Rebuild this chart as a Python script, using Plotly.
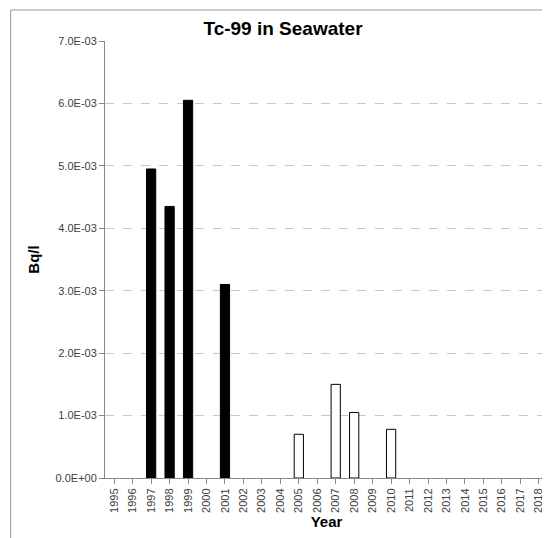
import plotly.graph_objects as go

years = [str(y) for y in range(1995, 2019)]
black_years = ["1997", "1998", "1999", "2001"]
black_vals = [4.95e-3, 4.35e-3, 6.05e-3, 3.1e-3]
white_years = ["2005", "2007", "2008", "2010"]
white_vals = [0.70e-3, 1.50e-3, 1.05e-3, 0.78e-3]
y_ticks = [i * 1e-3 for i in range(8)]
y_labels = ["0.0E+00", "1.0E-03", "2.0E-03", "3.0E-03", "4.0E-03", "5.0E-03", "6.0E-03", "7.0E-03"]

fig = go.Figure()
fig.add_trace(go.Bar(x=black_years, y=black_vals, marker=dict(color="black", line=dict(color="black", width=1)), width=0.5))
fig.add_trace(go.Bar(x=white_years, y=white_vals, marker=dict(color="white", line=dict(color="black", width=1)), width=0.5))

fig.update_layout(
    width=550, height=538,
    margin=dict(l=97, r=10, t=33, b=68),
    paper_bgcolor="white", plot_bgcolor="white",
    showlegend=False, barmode="overlay",
    font=dict(family="Liberation Sans", size=11, color="#404040"),
    title=dict(text="<b>Tc-99 in Seawater</b>", x=0.5, y=0.975, xanchor="center",
               font=dict(size=19, color="black")),
    xaxis=dict(type="category", categoryorder="array", categoryarray=years, range=[-0.5, 23.5],
               tickangle=-90, showline=True, linecolor="#888", ticks="outside", tickcolor="#888",
               title=dict(text="<b>Year</b>", font=dict(size=15, color="black"), standoff=4)),
    yaxis=dict(range=[0, 7e-3], tickvals=y_ticks, ticktext=y_labels, showgrid=True,
               gridcolor="#c8c8c8", griddash="dash", showline=True, linecolor="#888",
               ticks="outside", tickcolor="#888",
               title=dict(text="<b>Bq/l</b>", font=dict(size=15, color="black"), standoff=12)),
    shapes=[dict(type="rect", xref="paper", yref="paper", x0=-0.213, x1=1.016, y0=-0.15, y1=1.071,
                 line=dict(color="#999", width=1))],
)

fig.write_html("out.html")
